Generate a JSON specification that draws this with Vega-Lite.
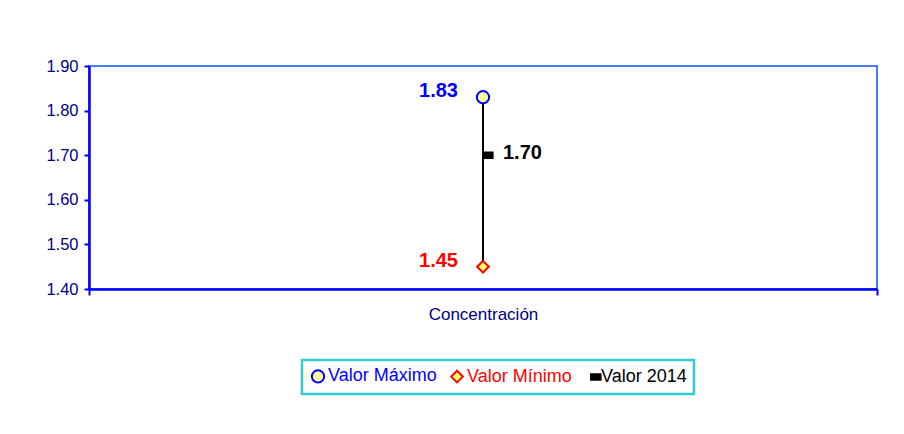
{
  "$schema": "https://vega.github.io/schema/vega-lite/v6.json",
  "width": 788,
  "height": 223,
  "autosize": {"type": "none"},
  "padding": {"left": 89, "top": 66, "right": 27, "bottom": 145},
  "background": "white",
  "config": {
    "view": {"stroke": "#4A7BFF", "strokeWidth": 2},
    "font": "Liberation Sans",
    "legend": {
      "orient": "none",
      "legendX": 213,
      "legendY": 294,
      "direction": "horizontal",
      "columns": 3,
      "labelFontSize": 18,
      "labelOffset": 1,
      "columnPadding": 10,
      "padding": 7,
      "strokeColor": "#33CCCC",
      "strokeWidth": 2.5,
      "fillColor": "white",
      "symbolStrokeWidth": 2
    }
  },
  "datasets": {
    "range": [{"cat": "Concentración", "min": 1.45, "max": 1.83}],
    "pts": [
      {"cat": "Concentración", "series": "Valor Máximo", "value": 1.83},
      {"cat": "Concentración", "series": "Valor Mínimo", "value": 1.45},
      {"cat": "Concentración", "series": "Valor 2014", "value": 1.70}
    ]
  },
  "encoding": {
    "x": {
      "field": "cat",
      "type": "nominal",
      "title": null,
      "axis": {
        "labelAngle": 0,
        "labelColor": "#000080",
        "labelFontSize": 17,
        "labelPadding": 11,
        "tickBand": "extent",
        "domainColor": "#0000FF",
        "domainWidth": 2.5,
        "tickColor": "#0000FF",
        "tickWidth": 2,
        "tickSize": 6
      }
    }
  },
  "layer": [
    {
      "data": {"name": "range"},
      "mark": {"type": "rule", "color": "black", "strokeWidth": 2},
      "encoding": {
        "y": {
          "field": "min",
          "type": "quantitative",
          "scale": {"domain": [1.4, 1.9], "nice": false, "zero": false},
          "axis": {
            "title": null,
            "values": [1.4, 1.5, 1.6, 1.7, 1.8, 1.9],
            "format": ".2f",
            "grid": false,
            "labelColor": "#000080",
            "labelFontSize": 16.5,
            "labelPadding": 6,
            "domainColor": "#0000FF",
            "domainWidth": 2.5,
            "tickColor": "#0000FF",
            "tickWidth": 2,
            "tickSize": 5
          }
        },
        "y2": {"field": "max"}
      }
    },
    {
      "data": {"name": "pts"},
      "mark": {"type": "point", "filled": false, "strokeWidth": 2, "opacity": 1},
      "encoding": {
        "y": {"field": "value", "type": "quantitative"},
        "shape": {
          "field": "series",
          "type": "nominal",
          "title": null,
          "scale": {
            "domain": ["Valor Máximo", "Valor Mínimo", "Valor 2014"],
            "range": ["circle", "diamond", "M0,-0.5H1.75V0.5H0Z"]
          },
          "legend": {
            "labelColor": {"expr": "datum.value === 'Valor Máximo' ? '#0000FF' : datum.value === 'Valor Mínimo' ? '#FF0000' : '#000000'"}
          }
        },
        "stroke": {
          "field": "series",
          "type": "nominal",
          "title": null,
          "scale": {
            "domain": ["Valor Máximo", "Valor Mínimo", "Valor 2014"],
            "range": ["#0000FF", "#FF0000", "#000000"]
          },
          "legend": {
            "labelColor": {"expr": "datum.value === 'Valor Máximo' ? '#0000FF' : datum.value === 'Valor Mínimo' ? '#FF0000' : '#000000'"}
          }
        },
        "fill": {
          "field": "series",
          "type": "nominal",
          "title": null,
          "scale": {
            "domain": ["Valor Máximo", "Valor Mínimo", "Valor 2014"],
            "range": ["#FFFF99", "#FFFF66", "#000000"]
          },
          "legend": {
            "labelColor": {"expr": "datum.value === 'Valor Máximo' ? '#0000FF' : datum.value === 'Valor Mínimo' ? '#FF0000' : '#000000'"}
          }
        },
        "size": {
          "field": "series",
          "type": "nominal",
          "title": null,
          "scale": {
            "domain": ["Valor Máximo", "Valor Mínimo", "Valor 2014"],
            "range": [150, 120, 16]
          },
          "legend": {
            "labelColor": {"expr": "datum.value === 'Valor Máximo' ? '#0000FF' : datum.value === 'Valor Mínimo' ? '#FF0000' : '#000000'"}
          }
        }
      }
    },
    {
      "data": {"name": "pts"},
      "transform": [{"filter": "datum.series !== 'Valor 2014'"}],
      "mark": {"type": "text", "align": "right", "baseline": "middle", "dx": -25, "dy": -6, "fontWeight": "bold", "fontSize": 20},
      "encoding": {
        "y": {"field": "value", "type": "quantitative"},
        "text": {"field": "value", "type": "quantitative", "format": ".2f"},
        "color": {
          "condition": {"test": "datum.series === 'Valor Máximo'", "value": "#0000FF"},
          "value": "#FF0000"
        }
      }
    },
    {
      "data": {"name": "pts"},
      "transform": [{"filter": "datum.series === 'Valor 2014'"}],
      "mark": {"type": "text", "align": "left", "baseline": "middle", "dx": 20, "dy": -2, "fontWeight": "bold", "fontSize": 20, "color": "black"},
      "encoding": {
        "y": {"field": "value", "type": "quantitative"},
        "text": {"field": "value", "type": "quantitative", "format": ".2f"}
      }
    }
  ]
}
